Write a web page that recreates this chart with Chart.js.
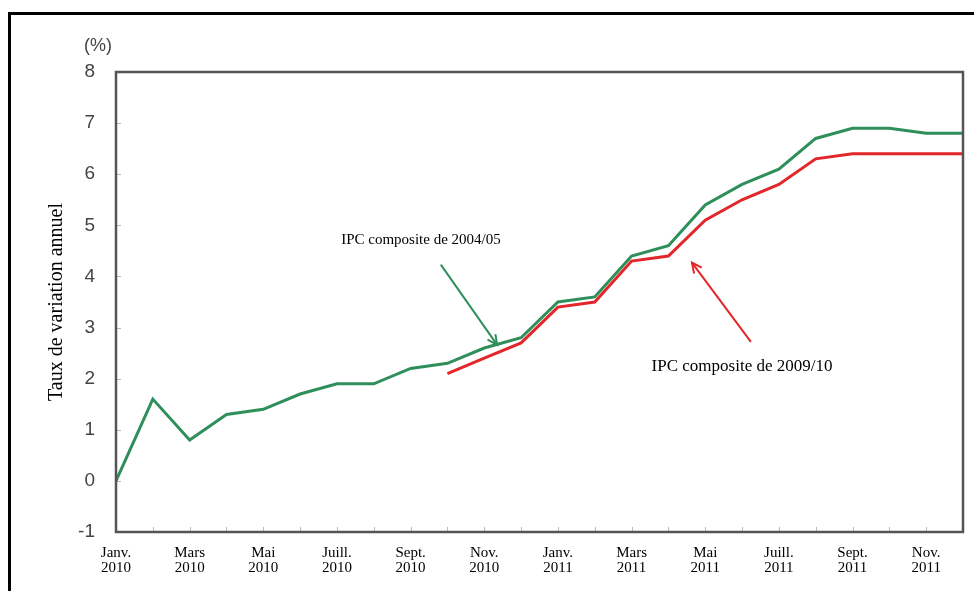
<!DOCTYPE html>
<html>
<head>
<meta charset="utf-8">
<script src="https://cdn.jsdelivr.net/npm/chart.js@4/dist/chart.umd.min.js"></script>
<style>
    html, body { margin: 0; padding: 0; background: #fff; }
    #wrap { width: 974px; height: 591px; position: relative; }
</style>
</head>
<body>
<div id="wrap"><canvas id="cpi"></canvas></div>
<script>
// monthly categories, Jan 2010 .. Dec 2011
const months = [
    ['Janv.', '2010'], ['Févr.', '2010'], ['Mars', '2010'], ['Avr.', '2010'],
    ['Mai', '2010'], ['Juin', '2010'], ['Juill.', '2010'], ['Août', '2010'],
    ['Sept.', '2010'], ['Oct.', '2010'], ['Nov.', '2010'], ['Déc.', '2010'],
    ['Janv.', '2011'], ['Févr.', '2011'], ['Mars', '2011'], ['Avr.', '2011'],
    ['Mai', '2011'], ['Juin', '2011'], ['Juill.', '2011'], ['Août', '2011'],
    ['Sept.', '2011'], ['Oct.', '2011'], ['Nov.', '2011'], ['Déc.', '2011']
];
const cpi0405 = [0, 1.6, 0.8, 1.3, 1.4, 1.7, 1.9, 1.9, 2.2, 2.3, 2.6, 2.8,
                 3.5, 3.6, 4.4, 4.6, 5.4, 5.8, 6.1, 6.7, 6.9, 6.9, 6.8, 6.8];
const cpi0910 = [null, null, null, null, null, null, null, null, null, 2.1, 2.4, 2.7,
                 3.4, 3.5, 4.3, 4.4, 5.1, 5.5, 5.8, 6.3, 6.4, 6.4, 6.4, 6.4];
const seriesNames = ['IPC composite de 2004/05', 'IPC composite de 2009/10'];
const yTitle = 'Taux de variation annuel';
const yUnit = '(%)';

const GREEN = '#2f8f5b';
const RED = '#e3262a';

// callouts, in data units (x = month index, y = %)
const callouts = [
    { text: seriesNames[0], color: GREEN, font: '15px "Liberation Serif"', tx: 8.28, ty: 4.72, from: [8.82, 4.23], to: [10.35, 2.66] },
    { text: seriesNames[1], color: RED, font: '17px "Liberation Serif"', tx: 17.0, ty: 2.23, from: [17.24, 2.72], to: [15.64, 4.27] }
];

const decorations = {
    id: 'decorations',
    beforeDatasetsDraw(chart) {
        const { ctx, chartArea: a, scales: { x, y } } = chart;
        ctx.save();
        // small inward tick marks
        ctx.strokeStyle = '#bbb';
        ctx.lineWidth = 1;
        for (let v = y.min; v <= y.max; v++) {
            const py = Math.round(y.getPixelForValue(v)) + 0.5;
            ctx.beginPath(); ctx.moveTo(a.left, py); ctx.lineTo(a.left + 5, py); ctx.stroke();
        }
        for (let i = 1; i < months.length; i++) {
            const px = Math.round(x.getPixelForValue(i)) + 0.5;
            ctx.beginPath(); ctx.moveTo(px, a.bottom); ctx.lineTo(px, a.bottom - 5); ctx.stroke();
        }
        ctx.restore();
    },
    afterDatasetsDraw(chart) {
        const { ctx, chartArea: a, scales: { x, y } } = chart;
        ctx.save();
        // plot frame
        ctx.strokeStyle = '#555';
        ctx.lineWidth = 2.5;
        ctx.strokeRect(a.left, a.top, a.right - a.left, a.bottom - a.top);

        // outer black frame (top and left)
        ctx.strokeStyle = '#000';
        ctx.lineWidth = 3;
        ctx.beginPath();
        ctx.moveTo(9.5, chart.height);
        ctx.lineTo(9.5, 13.5);
        ctx.lineTo(chart.width, 13.5);
        ctx.stroke();

        // unit label
        ctx.fillStyle = '#444';
        ctx.font = '18px "Liberation Sans"';
        ctx.textAlign = 'center';
        ctx.textBaseline = 'middle';
        ctx.fillText(yUnit, a.left - 18, a.top - 26);

        // callouts with arrows
        callouts.forEach((c) => {
            ctx.fillStyle = '#000';
            ctx.font = c.font;
            ctx.fillText(c.text, x.getPixelForValue(c.tx), y.getPixelForValue(c.ty));
            const x0 = x.getPixelForValue(c.from[0]), y0 = y.getPixelForValue(c.from[1]);
            const x1 = x.getPixelForValue(c.to[0]), y1 = y.getPixelForValue(c.to[1]);
            const ang = Math.atan2(y1 - y0, x1 - x0);
            ctx.strokeStyle = c.color;
            ctx.lineWidth = 2;
            ctx.beginPath(); ctx.moveTo(x0, y0); ctx.lineTo(x1, y1); ctx.stroke();
            ctx.beginPath();
            ctx.moveTo(x1 - 11 * Math.cos(ang - 0.45), y1 - 11 * Math.sin(ang - 0.45));
            ctx.lineTo(x1, y1);
            ctx.lineTo(x1 - 11 * Math.cos(ang + 0.45), y1 - 11 * Math.sin(ang + 0.45));
            ctx.stroke();
        });
        ctx.restore();
    }
};

new Chart(document.getElementById('cpi'), {
    type: 'line',
    data: {
        labels: months,
        datasets: [
            {
                label: seriesNames[1],
                data: cpi0910,
                borderColor: RED,
                borderWidth: 3,
                pointRadius: 0,
                tension: 0,
                spanGaps: false
            },
            {
                label: seriesNames[0],
                data: cpi0405,
                borderColor: GREEN,
                borderWidth: 3,
                pointRadius: 0,
                tension: 0
            }
        ]
    },
    options: {
        responsive: true,
        maintainAspectRatio: false,
        animation: false,
        layout: { padding: { left: 0, top: 72, right: 11, bottom: 0 } },
        plugins: { legend: { display: false }, tooltip: { enabled: false } },
        scales: {
            x: {
                grid: { display: false },
                border: { display: false },
                afterFit: (s) => { s.height = 59; },
                ticks: {
                    autoSkip: false,
                    maxRotation: 0,
                    padding: 6,
                    color: '#000',
                    font: { family: '"Liberation Serif"', size: 15, lineHeight: 1.0 },
                    callback: (v, i) => (i % 2 === 0 ? months[i] : '')
                }
            },
            y: {
                min: -1,
                max: 8,
                grid: { display: false },
                border: { display: false },
                afterFit: (s) => { s.width = 116; },
                title: {
                    display: true,
                    text: yTitle,
                    color: '#000',
                    padding: { top: 45 },
                    font: { family: '"Liberation Serif"', size: 20, lineHeight: 1.2 }
                },
                ticks: {
                    stepSize: 1,
                    padding: 13,
                    color: '#444',
                    font: { family: '"Liberation Sans"', size: 19 }
                }
            }
        }
    },
    plugins: [decorations]
});
</script>
</body>
</html>
